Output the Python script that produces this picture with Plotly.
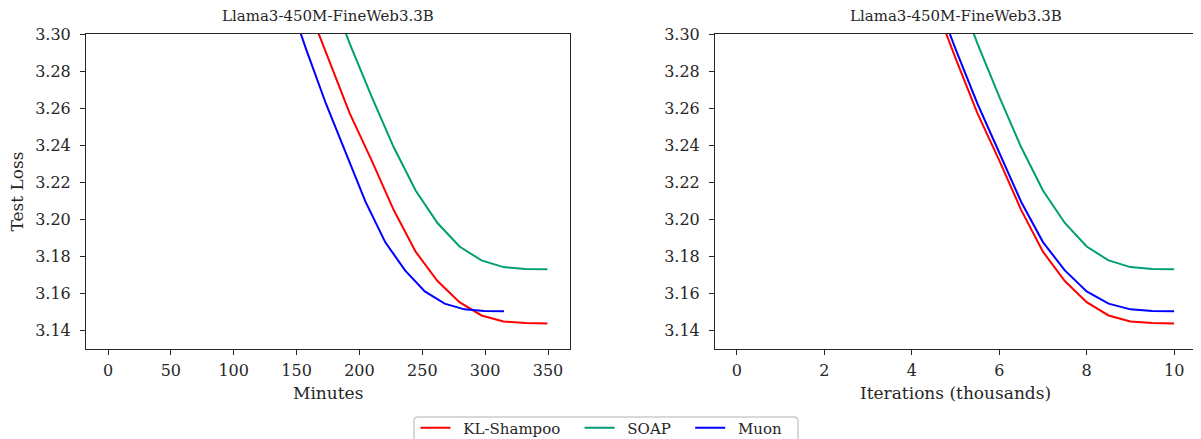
import plotly.graph_objects as go

# ---- data ----
iters_k = [4.5, 5.0, 5.5, 6.0, 6.5, 7.0, 7.5, 8.0, 8.5, 9.0, 9.5, 10.0]

minutes_kl = [157.3, 174.8, 192.2, 209.7, 227.2, 244.7, 262.1, 279.6, 297.1, 314.6, 332.0, 349.5]
minutes_soap = [157.3, 174.8, 192.2, 209.7, 227.2, 244.7, 262.1, 279.6, 297.1, 314.6, 332.0, 349.5]
minutes_muon = [141.8, 157.5, 173.3, 189.0, 204.8, 220.5, 236.3, 252.0, 267.8, 283.5, 299.3, 315.0]

loss_kl = [3.318, 3.287, 3.2573, 3.2318, 3.2051, 3.1825, 3.1667, 3.1553, 3.1481, 3.1449, 3.1440, 3.1438]
loss_soap = [3.357, 3.326, 3.2950, 3.2662, 3.2390, 3.2155, 3.1980, 3.1853, 3.1778, 3.1742, 3.1732, 3.1730]
loss_muon = [3.323, 3.292, 3.2625, 3.2360, 3.2095, 3.1877, 3.1724, 3.1611, 3.1545, 3.1514, 3.1505, 3.1504]

names = ["KL-Shampoo", "SOAP", "Muon"]
colors = ["#ff0000", "#009e73", "#0000ff"]

x_ticks_left = [0, 50, 100, 150, 200, 250, 300, 350]
x_ticks_right = [0, 2, 4, 6, 8, 10]
y_ticks = [3.14, 3.16, 3.18, 3.20, 3.22, 3.24, 3.26, 3.28, 3.30]
title_text = "Llama3-450M-FineWeb3.3B"

W, H = 1201, 439
OFF = 8  # page body margin shifts the figure
FONT = "'DejaVu Serif', serif"
TXT = "#262626"

# plot area (reference pixel coordinates minus page offset)
ML, MT = 86 - OFF, 34 - OFF
MB = H - (349 - OFF)
MR = W - (1196 - OFF)
PW = W - ML - MR
PH = H - MT - MB

def dom(a, b):
    return [(a - 86) / PW, (b - 86) / PW]

def fx(px):
    return (px - OFF - ML) / PW

def fy(py):
    return (H - MB - (py - OFF)) / PH

fig = go.Figure()

# legend labels with a little padding so spacing matches the reference legend
pad_l = "\u00a0\u2009"
pad_r = "\u00a0\u00a0\u00a0"
leg_names = [pad_l + n + pad_r for n in names]

left_x = [minutes_kl, minutes_soap, minutes_muon]
ys = [loss_kl, loss_soap, loss_muon]
for i in range(3):
    fig.add_trace(go.Scatter(x=left_x[i], y=ys[i], mode="lines", name=leg_names[i],
                             line=dict(color=colors[i], width=2),
                             xaxis="x", yaxis="y", showlegend=True))
for i in range(3):
    fig.add_trace(go.Scatter(x=iters_k, y=ys[i], mode="lines", name=leg_names[i],
                             line=dict(color=colors[i], width=2),
                             xaxis="x2", yaxis="y2", showlegend=False))

axis_common = dict(showline=True, linecolor="#262626", linewidth=1, mirror=True,
                   ticks="outside", ticklen=5, tickwidth=1, tickcolor="#262626",
                   showgrid=False, zeroline=False, automargin=False,
                   tickfont=dict(family=FONT, size=16, color=TXT))

fig.update_layout(
    width=W, height=H,
    margin=dict(l=ML, r=MR, t=MT, b=MB, autoexpand=False),
    paper_bgcolor="white", plot_bgcolor="white",
    font=dict(family=FONT, color=TXT),
    xaxis=dict(domain=dom(86, 570), range=[-17.5, 367.5], tickvals=x_ticks_left,
               anchor="y", ticklabelstandoff=2, **axis_common),
    yaxis=dict(domain=[0, 1], range=[3.13, 3.30], tickvals=y_ticks, tickformat=".2f",
               anchor="x", ticklabelstandoff=6, **axis_common),
    xaxis2=dict(domain=dom(715, 1196), range=[-0.5, 10.5], tickvals=x_ticks_right,
                anchor="y2", ticklabelstandoff=2, **axis_common),
    yaxis2=dict(domain=[0, 1], range=[3.13, 3.30], tickvals=y_ticks, tickformat=".2f",
                anchor="x2", ticklabelstandoff=6, **axis_common),
    legend=dict(orientation="h", x=fx(415.5), xanchor="left", y=fy(411.5),
                yanchor="top", borderwidth=0, bgcolor="rgba(0,0,0,0)",
                font=dict(family=FONT, size=15, color=TXT),
                itemwidth=30, tracegroupgap=0),
)

# legend frame with rounded corners (like the reference)
x0, x1, y0, y1, r = fx(414), fx(798), fy(417), fy(450), 4
rx, ry = r / PW, r / PH
path = (f"M {x0 + rx},{y0} L {x1 - rx},{y0} Q {x1},{y0} {x1},{y0 - ry} "
        f"L {x1},{y1} L {x0},{y1} L {x0},{y0 - ry} Q {x0},{y0} {x0 + rx},{y0} Z")
fig.add_shape(type="path", path=path, xref="paper", yref="paper",
              line=dict(color="#cccccc", width=1.5), fillcolor="rgba(255,255,255,0.8)",
              layer="below")

ann = []
for cx in (328, 955.5):
    ann.append(dict(text=title_text, x=cx, y=16))
ann.append(dict(text="Minutes", x=328, y=393, size=17))
ann.append(dict(text="Iterations (thousands)", x=955.5, y=393, size=17))

annotations = []
for a in ann:
    annotations.append(dict(text=a["text"], x=fx(a["x"]), y=fy(a["y"]),
                            xref="paper", yref="paper", showarrow=False,
                            xanchor="center", yanchor="middle",
                            font=dict(family=FONT, size=a.get("size", 15), color=TXT)))
annotations.append(dict(text="Test Loss", x=fx(16), y=fy(191.5), xref="paper", yref="paper",
                        showarrow=False, xanchor="center", yanchor="middle", textangle=-90,
                        font=dict(family=FONT, size=17, color=TXT)))

fig.update_layout(annotations=annotations)

fig.write_html("out.html")
